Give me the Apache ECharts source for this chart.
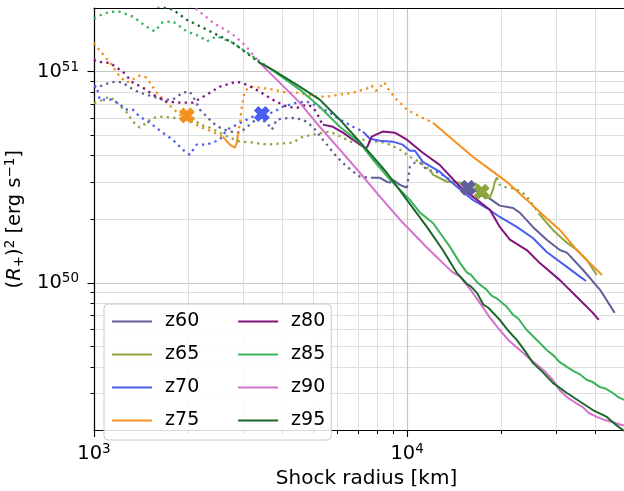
<!DOCTYPE html>
<html><head><meta charset="utf-8">
<script src="https://cdn.jsdelivr.net/npm/echarts@6/dist/echarts.min.js"></script>
<style>html,body{margin:0;padding:0;background:#fff}#c{width:624px;height:491px}</style>
</head><body><div id="c"></div>
<script>
// ---------------- data ----------------
const models = ['z60','z65','z70','z75','z80','z85','z90','z95'];
const xTicksMajor = [1e3, 1e4];
const xTicksMinor = [2e3,3e3,4e3,5e3,6e3,7e3,8e3,9e3,2e4,3e4,4e4,5e4];
const yTicksMajor = [1e50, 1e51];
const yTicksMinor = [2e49,3e49,4e49,5e49,6e49,7e49,8e49,9e49,2e50,3e50,4e50,5e50,6e50,7e50,8e50,9e50,2e51];

// [shock radius km, (R+)^2 erg/s]
const z60Dot1 = [[1000,8.5e50],[1020,8.4e50],[1122,8.87e50],[1182,8.97e50],[1235,8.87e50],[1300,8.4e50],[1400,7.95e50],[1541,7.62e50],[1656,7.36e50],[1784,7.36e50],[1920,7.95e50],[2022,8.04e50],[2098,7.36e50],[2178,6.61e50],[2292,6.12e50],[2393,5.73e50],[2523,5.43e50],[2716,5.2e50],[2925,5.14e50],[3077,5.48e50],[3213,5.73e50],[3310,6.05e50],[3565,5.73e50],[3700,5.31e50],[3834,5.93e50],[4222,6.05e50],[4645,5.93e50],[5000,5.48e50],[5381,4.76e50],[5959,3.95e50],[6415,3.55e50],[7063,3.18e50],[7770,3.14e50]];
const z60Sol1 = [[7770,3.14e50],[8185,3.14e50],[8610,3.01e50],[8810,2.98e50],[8990,3.08e50],[9484,2.91e50],[9980,2.82e50]];
const z60Dot2 = [[9980,2.82e50],[10210,3.55e50],[10590,3.71e50],[10990,3.71e50],[11560,3.43e50],[12700,3.32e50],[13990,3.01e50],[15280,2.76e50]];
const z60Sol2 = [[15280,2.76e50],[15850,2.82e50],[17960,2.56e50],[19760,2.32e50],[21780,2.26e50],[22890,2.15e50],[25200,1.84e50],[27900,1.6e50],[30730,1.43e50],[32360,1.39e50],[36470,1.15e50],[41300,9.27e49],[46000,7.21e49]];

const z65Dot1 = [[1000,7.1e50],[1020,7.13e50],[1066,7.36e50],[1122,7.62e50],[1182,7.13e50],[1273,6.4e50],[1330,5.8e50],[1400,5.43e50],[1473,5.73e50],[1541,6.05e50],[1656,6.12e50],[1784,6.05e50],[1920,5.99e50],[2052,6.12e50],[2178,5.61e50],[2345,5.43e50],[2523,5.14e50],[2716,4.86e50],[2925,4.66e50],[3213,4.61e50],[3565,4.51e50],[3917,4.56e50],[4315,4.61e50],[4645,4.92e50],[5000,5.03e50],[5381,5.14e50],[5662,5.2e50],[5959,5.03e50],[6415,4.76e50],[6714,4.61e50],[7226,4.76e50],[7600,4.66e50],[8185,4.66e50],[8810,4.51e50],[9484,4.27e50],[10210,3.95e50],[10990,3.71e50],[11830,3.43e50]];
const z65Sol1 = [[11830,3.43e50],[12090,3.25e50],[13390,3.01e50],[14750,2.98e50],[16210,2.85e50],[16600,2.95e50],[17060,2.67e50],[17500,2.75e50],[17960,2.52e50],[18370,2.53e50],[18790,2.76e50],[19060,3.01e50],[19360,3.15e50]];
const z65Dot2 = [[19360,3.15e50],[19760,2.91e50],[20240,2.85e50],[21280,2.82e50],[22390,2.76e50],[23420,2.67e50],[24100,2.56e50],[25200,2.34e50],[26530,2.1e50]];
const z65Sol2 = [[26530,2.1e50],[29200,1.78e50],[32360,1.55e50],[34830,1.43e50],[37500,1.28e50],[40330,1.09e50]];

const z70Dot1 = [[1000,8.6e50],[1020,8.49e50],[1043,7.36e50],[1147,7.36e50],[1273,6.61e50],[1330,6.61e50],[1400,6.12e50],[1507,5.73e50],[1656,5.14e50],[1784,4.76e50],[1920,4.27e50],[2022,4.04e50],[2128,4.51e50],[2292,4.51e50],[2523,4.76e50],[2656,5.31e50],[2773,5.48e50],[2985,5.8e50],[3213,6.12e50],[3436,6.32e50],[3722,6.4e50],[4010,6.82e50],[4446,7.13e50],[4786,7.21e50],[5145,6.9e50],[5662,6.4e50],[6095,5.93e50],[6714,5.48e50],[7226,5.2e50]];
const z70Sol1 = [[7226,5.2e50],[7600,4.81e50],[8185,4.71e50],[8990,4.66e50],[9680,4.51e50],[10210,4.22e50],[10590,4.22e50],[11220,3.74e50],[12700,3.36e50],[14410,2.85e50],[16210,2.47e50],[17960,2.26e50],[19760,2.05e50],[22390,1.84e50],[25200,1.63e50],[27900,1.4e50],[32360,1.19e50],[35630,1.07e50],[37240,1.02e50]];

const z75Dot1 = [[1000,1.37e51],[1020,1.31e51],[1122,1.11e51],[1208,9.47e50],[1273,8.87e50],[1400,9.57e50],[1473,9.37e50],[1585,7.95e50],[1706,7.13e50],[1878,6.25e50],[2178,5.48e50],[2393,5.19e50],[2576,4.92e50]];
const z75Sol1 = [[2576,4.92e50],[2716,4.51e50],[2817,4.36e50],[2860,4.61e50],[2880,5.03e50]];
const z75Dot2 = [[2880,5.03e50],[2925,5.73e50],[2966,6.82e50],[3027,8.04e50],[3141,8.49e50],[3381,8.4e50],[3722,8.22e50],[4130,7.95e50],[4539,7.95e50],[5000,7.62e50],[5546,7.62e50],[6095,7.78e50],[6714,7.95e50],[7430,8.31e50],[7700,8.6e50],[7950,8.1e50],[8450,8.9e50],[8810,8.04e50],[9270,7.36e50],[9980,6.61e50],[10990,6.12e50],[12090,5.73e50]];
const z75Sol2 = [[12090,5.73e50],[13990,4.76e50],[16210,3.95e50],[18790,3.36e50],[20800,3.01e50],[24100,2.47e50],[27100,2.1e50],[30730,1.78e50],[34830,1.43e50],[37500,1.28e50],[41880,1.09e50]];

const z80Dot1 = [[1000,1.14e51],[1020,1.115e51],[1122,1.1e51],[1235,1.0e51],[1330,8.87e50],[1432,8.4e50],[1541,7.78e50],[1706,7.21e50],[1878,7.13e50],[2070,7.13e50],[2292,7.78e50],[2523,8.49e50],[2860,8.97e50],[3077,8.67e50],[3381,8.04e50],[3722,7.36e50],[4130,6.82e50],[4446,6.74e50],[4786,6.98e50],[4966,6.82e50],[5145,6.4e50],[5258,5.93e50],[5381,5.61e50]];
const z80Sol1 = [[5381,5.61e50],[5794,5.48e50],[6240,5.14e50],[6714,4.76e50],[7378,4.32e50],[7470,4.42e50],[7703,4.92e50],[8356,5.2e50],[9140,5.14e50],[9980,4.76e50],[11220,4.13e50],[12700,3.62e50],[14750,2.85e50],[16210,2.56e50],[18370,2.22e50],[19760,1.84e50],[21280,1.6e50],[24100,1.43e50],[26530,1.24e50],[30730,1.03e50],[35630,8.3e49],[39170,7.21e49],[40930,6.68e49]];

const z85Dot1 = [[1000,1.78e51],[1020,1.82e51],[1122,1.92e51],[1208,1.92e51],[1330,1.82e51],[1473,1.63e51],[1562,1.55e51],[1656,1.71e51],[1784,1.73e51],[1977,1.55e51],[2178,1.47e51],[2292,1.39e51],[2466,1.47e51],[2773,1.37e51],[3213,1.18e51],[3565,1.06e51]];
const z85Sol1 = [[3565,1.06e51],[4539,8.22e50],[5258,6.82e50],[6095,5.48e50],[7063,4.61e50],[7770,3.83e50],[8810,3.08e50],[10210,2.47e50],[10990,2.15e50],[12090,1.92e50],[13700,1.48e50],[14750,1.24e50],[15500,1.12e50],[16000,1.09e50],[16800,1.0e50],[17950,9.27e49],[18600,8.7e49],[19300,8.45e49],[20800,7.7e49],[21800,7.05e49],[22600,6.8e49],[24100,5.98e49],[25500,5.5e49],[26500,5.2e49],[27900,4.81e49],[29500,4.5e49],[30500,4.25e49],[32360,4.0e49],[34000,3.82e49],[35500,3.7e49],[37500,3.47e49],[39000,3.4e49],[41300,3.21e49],[43000,3.16e49],[45400,3.01e49],[47500,2.86e49],[50000,2.77e49],[55000,2.6e49]];

const z90Dot1 = [[1950,2.15e51],[2128,1.97e51],[2393,1.71e51],[2773,1.5e51],[3027,1.34e51],[3258,1.18e51],[3381,1.1e51]];
const z90Sol1 = [[3381,1.1e51],[3917,8.87e50],[4539,7.13e50],[5258,5.48e50],[6095,4.27e50],[7063,3.32e50],[8185,2.56e50],[9484,1.99e50],[11560,1.47e50],[12400,1.33e50],[13390,1.19e50],[14000,1.12e50],[14750,1.07e50],[16000,9.2e49],[17060,8.04e49],[18300,6.9e49],[19760,5.98e49],[21200,5.3e49],[22890,4.81e49],[24500,4.4e49],[26530,4.0e49],[27800,3.75e49],[29200,3.47e49],[30700,3.1e49],[32360,2.88e49],[34300,2.72e49],[36370,2.58e49],[38000,2.42e49],[40330,2.32e49],[42500,2.25e49],[45400,2.19e49],[47500,2.14e49],[50000,2.1e49],[55000,2.0e49]];

const z95Dot1 = [[1450,2.1e51],[1784,1.97e51],[1977,1.76e51],[2393,1.53e51],[2773,1.37e51],[3213,1.165e51],[3334,1.115e51]];
const z95Sol1 = [[3334,1.115e51],[3722,1.02e51],[4539,8.49e50],[5258,7.37e50],[6095,5.92e50],[7430,4.27e50],[8610,3.32e50],[9980,2.47e50],[11560,1.84e50],[13000,1.43e50],[14410,1.114e50],[15500,9.9e49],[16000,9.6e49],[16700,8.97e49],[17500,7.9e49],[18200,7.6e49],[19760,6.68e49],[21000,5.95e49],[22390,5.37e49],[23800,4.75e49],[25200,4.18e49],[27000,3.8e49],[29200,3.36e49],[32360,3.01e49],[35500,2.75e49],[39170,2.5e49],[43420,2.32e49],[46000,2.15e49],[48870,2.01e49],[55000,1.8e49]];

// X markers: [model, radius, value]
const markers = [['z60',15630,2.82e50],['z65',17300,2.70e50],['z70',3436,6.3e50],['z75',1980,6.2e50]];

// ---------------- styling ----------------
const colors = {z60:'#5f5f99', z65:'#8ba63f', z70:'#4a5ef0', z75:'#f5901e', z80:'#80157f', z85:'#3bb35c', z90:'#d472cc', z95:'#19692a'};
const segments = [
  ['z60', z60Dot1, 'dot'], ['z60', z60Sol1, 'solid'], ['z60', z60Dot2, 'dot'], ['z60', z60Sol2, 'solid'],
  ['z65', z65Dot1, 'dot'], ['z65', z65Sol1, 'solid'], ['z65', z65Dot2, 'dot'], ['z65', z65Sol2, 'solid'],
  ['z70', z70Dot1, 'dot'], ['z70', z70Sol1, 'solid'],
  ['z75', z75Dot1, 'dot'], ['z75', z75Sol1, 'solid'], ['z75', z75Dot2, 'dot'], ['z75', z75Sol2, 'solid'],
  ['z80', z80Dot1, 'dot'], ['z80', z80Sol1, 'solid'],
  ['z85', z85Dot1, 'dot'], ['z85', z85Sol1, 'solid'],
  ['z90', z90Dot1, 'dot'], ['z90', z90Sol1, 'solid'],
  ['z95', z95Dot1, 'dot'], ['z95', z95Sol1, 'solid']
];
const FONT = 'DejaVu Sans';
const X_PATH = 'path://M0.5,0L1,0.5L0.5,1L0,0.5L-0.5,1L-1,0.5L-0.5,0L-1,-0.5L-0.5,-1L0,-0.5L0.5,-1L1,-0.5Z';

const usedLegend = {};
const series = [];
segments.forEach(([m, data, kind]) => {
  let name;
  if (kind === 'solid' && !usedLegend[m]) { name = m; usedLegend[m] = true; }
  else name = m + '_' + kind + series.length;
  series.push({
    type: 'line', name, data, symbol: 'none', silent: true, clip: true,
    lineStyle: kind === 'solid'
      ? {color: colors[m], width: 2}
      : {color: colors[m], width: 2.3, type: [2.3, 4.2], cap: 'butt'},
    itemStyle: {color: colors[m]}
  });
});
markers.forEach(([m, r, v]) => {
  series.push({
    type: 'scatter', name: m + '_marker', data: [[r, v]], symbol: X_PATH, symbolSize: 14,
    itemStyle: {color: colors[m], opacity: 1, borderColor: colors[m], borderWidth: 1.5, borderJoin: 'round'},
    silent: true, z: 3
  });
});

const expFmt = v => '{b|10}{s|' + Math.round(Math.log10(v)) + '}';
const tickRich = {
  b: {fontSize: 19.5, fontFamily: FONT, color: '#000'},
  s: {fontSize: 13.5, fontFamily: FONT, color: '#000', padding: [0, 0, 9, 0]}
};

const XMIN = 1000, XMAX = 55000, YMIN = 2e49, YMAX = 2e51;
const baseLog = (min, max) => ({type: 'log', logBase: 10, min, max});

const option = {
  animation: false,
  backgroundColor: '#fff',
  grid: {left: 94, top: 8, width: 545, height: 422.5, containLabel: false, outerBoundsMode: 'none'},
  xAxis: [
    Object.assign(baseLog(XMIN, XMAX), {
      position: 'bottom',
      axisLine: {show: true, onZero: false, lineStyle: {color: '#000', width: 1.2}},
      axisTick: {show: true, inside: false, length: 6.5, customValues: xTicksMajor, lineStyle: {color: '#000', width: 1.1}},
      axisLabel: {show: true, customValues: xTicksMajor, formatter: expFmt, rich: tickRich, margin: 12, color: '#000'},
      splitLine: {show: true, lineStyle: {color: '#c6c6c6', width: 1.2}},
      name: 'Shock radius [km]', nameLocation: 'middle', nameGap: 36,
      nameTextStyle: {fontSize: 20, fontFamily: FONT, color: '#000'}
    }),
    Object.assign(baseLog(XMIN, XMAX), {
      position: 'bottom',
      axisLine: {show: false},
      axisTick: {show: true, inside: false, length: 3.5, customValues: xTicksMinor, lineStyle: {color: '#000', width: 1}},
      axisLabel: {show: false},
      splitLine: {show: true, lineStyle: {color: '#dedede', width: 1}}
    }),
    Object.assign(baseLog(XMIN, XMAX), {
      position: 'top',
      axisLine: {show: true, onZero: false, lineStyle: {color: '#000', width: 1.2}},
      axisTick: {show: false}, axisLabel: {show: false}, splitLine: {show: false}
    })
  ],
  yAxis: [
    Object.assign(baseLog(YMIN, YMAX), {
      position: 'left',
      axisLine: {show: true, onZero: false, lineStyle: {color: '#000', width: 1.2}},
      axisTick: {show: true, inside: false, length: 6.5, customValues: yTicksMajor, lineStyle: {color: '#000', width: 1.1}},
      axisLabel: {show: true, customValues: yTicksMajor, formatter: expFmt, rich: tickRich, margin: 15, color: '#000'},
      splitLine: {show: true, lineStyle: {color: '#c6c6c6', width: 1.2}},
      name: '(' + '{i|R}{sub|+}' + ')' + '{sup|2}' + ' [erg s' + '{sup|\u22121}' + ']',
      nameLocation: 'middle', nameRotate: 90, nameGap: 66,
      nameTextStyle: {
        fontSize: 19.5, fontFamily: FONT, color: '#000',
        rich: {
          i: {fontSize: 19.5, fontFamily: FONT, fontStyle: 'italic', color: '#000'},
          sub: {fontSize: 13.5, fontFamily: FONT, color: '#000', padding: [8, 0, 0, 0]},
          sup: {fontSize: 13.5, fontFamily: FONT, color: '#000', padding: [0, 0, 9, 0]}
        }
      }
    }),
    Object.assign(baseLog(YMIN, YMAX), {
      position: 'left',
      axisLine: {show: false},
      axisTick: {show: true, inside: false, length: 3.5, customValues: yTicksMinor, lineStyle: {color: '#000', width: 1}},
      axisLabel: {show: false},
      splitLine: {show: true, lineStyle: {color: '#dedede', width: 1}}
    })
  ],
  legend: [
    {
      data: models.slice(0, 4), orient: 'vertical', left: 104, top: 304,
      padding: [8, 132, 10, 7], itemWidth: 40, itemHeight: 14, itemGap: 14,
      backgroundColor: 'rgba(255,255,255,0.85)', borderColor: '#cccccc', borderWidth: 1, borderRadius: 4,
      selectedMode: false, itemStyle: {opacity: 0}, lineStyle: {width: 2.2},
      textStyle: {fontSize: 19, fontFamily: FONT, color: '#000', padding: [0, 0, 0, 8]}
    },
    {
      data: models.slice(4), orient: 'vertical', left: 237, top: 312,
      padding: 0, itemWidth: 40, itemHeight: 14, itemGap: 14,
      selectedMode: false, itemStyle: {opacity: 0}, lineStyle: {width: 2.2},
      textStyle: {fontSize: 19, fontFamily: FONT, color: '#000', padding: [0, 0, 0, 8]}
    }
  ],
  series
};

const chart = echarts.init(document.getElementById('c'), null, {renderer: 'canvas'});
chart.setOption(option);
</script>
</body></html>
